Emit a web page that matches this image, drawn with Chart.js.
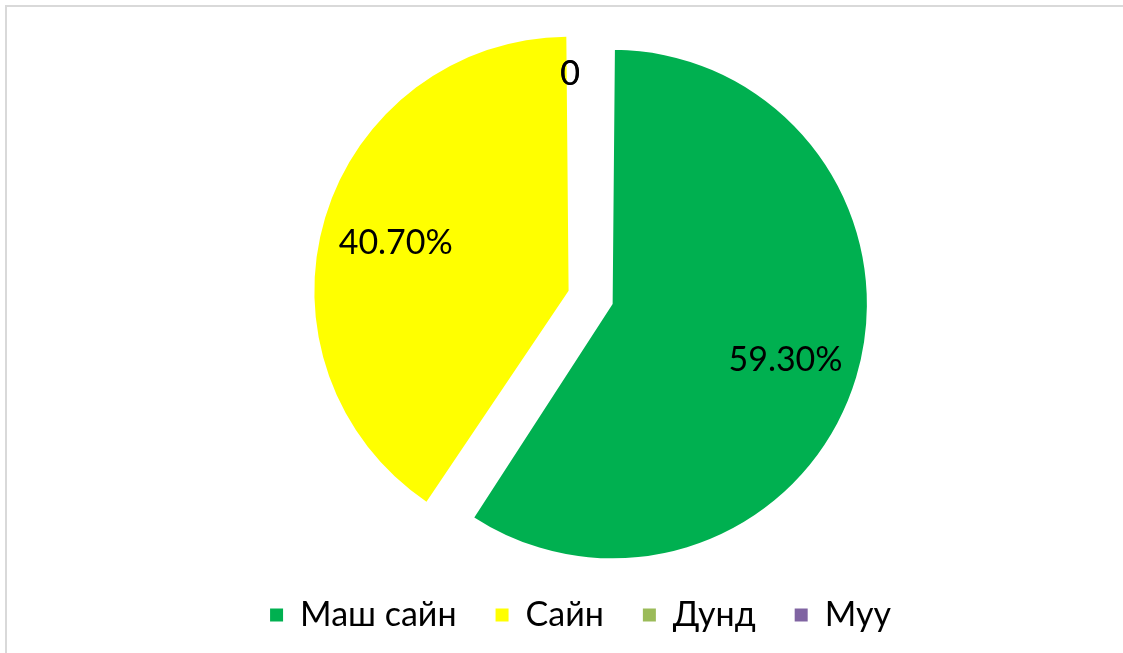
<!DOCTYPE html>
<html>
<head>
<meta charset="utf-8">
<script src="https://cdn.jsdelivr.net/npm/chart.js@4"></script>
<style>
  html, body { margin: 0; padding: 0; background: #fff; overflow: hidden; }
  #wrap { position: relative; width: 1123px; height: 653px; }
  #frame { position: absolute; left: 5px; top: 5px; width: 1140px; height: 670px; border: 2px solid #d9d9d9; box-sizing: border-box; }
  canvas { position: absolute; left: 0; top: 0; }
</style>
</head>
<body>
<div id="wrap">
  <div id="frame"></div>
  <canvas id="myChart" width="1123" height="653"></canvas>
</div>
<script>
const categories = ['Маш сайн', 'Сайн', 'Дунд', 'Муу']
const shares = [59.3, 40.7, 0, 0]
const valueLabels = ['59.30%', '40.70%', '0', '0']
const colors = ['#00B050', '#FFFF00', '#9BBB59', '#8064A2']

const fontFamily = 'Lato, "Open Sans", sans-serif'

// draws the value labels on the slices
const pieLabels = {
  id: 'pieLabels',
  afterDatasetsDraw (chart) {
    const meta = chart.getDatasetMeta(0)
    const ctx = chart.ctx
    ctx.save()
    ctx.font = '34px ' + fontFamily
    ctx.fillStyle = '#000'
    ctx.textAlign = 'center'
    ctx.textBaseline = 'middle'
    meta.data.forEach((arc, i) => {
      const p = arc.getProps(['x', 'y', 'startAngle', 'endAngle', 'outerRadius'], true)
      let px, py
      if (shares[i] === 0) {
        px = p.x - 0.12 * p.outerRadius
        py = p.y - 0.94 * p.outerRadius
      } else {
        // chart.js moves an arc by offset/4 and grows it a little
        const t = arc.options.offset / 4
        const circ = p.endAngle - p.startAngle
        const rr = p.outerRadius + t * (1 - Math.sin(Math.min(Math.PI, circ)))
        const mid = (p.startAngle + p.endAngle) / 2
        const d = t + 0.71 * rr
        px = p.x + Math.cos(mid) * d
        py = p.y + Math.sin(mid) * d + 4
      }
      ctx.fillText(valueLabels[i], px, py)
    })
    ctx.restore()
  }
}

const ctx = document.getElementById('myChart')
const myChart = new Chart(ctx, {
  type: 'pie',
  data: {
    labels: categories,
    datasets: [{
      data: shares,
      backgroundColor: colors,
      borderWidth: 0,
      offset: [57, 127, 0, 0]
    }]
  },
  options: {
    responsive: false,
    animation: false,
    radius: 240,
    layout: {
      padding: { left: 38, right: 0, top: 41, bottom: 11 }
    },
    plugins: {
      // empty box on the left, pushes the pie right of the legend centre
      title: {
        display: true,
        position: 'left',
        text: ' ',
        padding: 0,
        font: { size: 37, lineHeight: 1 }
      },
      legend: {
        position: 'bottom',
        labels: {
          boxWidth: 13,
          boxHeight: 13,
          padding: 39,
          color: '#000',
          font: { family: fontFamily, size: 34 }
        }
      },
      tooltip: { enabled: false }
    }
  },
  plugins: [pieLabels]
})
</script>
</body>
</html>
